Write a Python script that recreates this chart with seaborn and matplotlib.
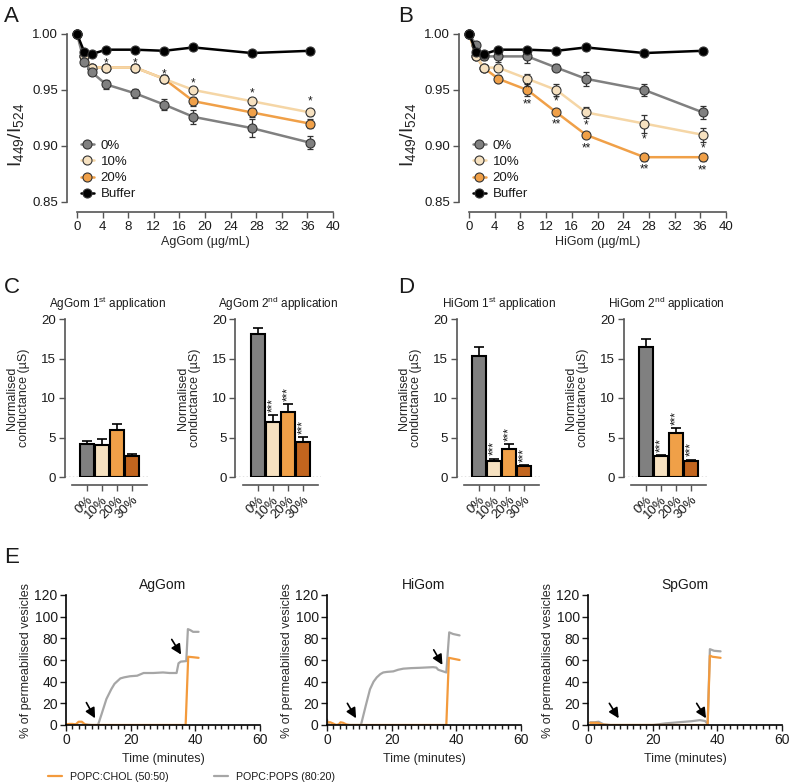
import matplotlib
matplotlib.use("Agg")
import matplotlib.pyplot as plt
import seaborn as sns
from matplotlib.lines import Line2D
from matplotlib.ticker import MultipleLocator

# ---------------- data ----------------
# A / B : I449/I524 ratio vs gomesin concentration
conc = [0, 1.14, 2.27, 4.55, 9.09, 13.6, 18.2, 27.3, 36.4]

ag_buffer = [1.000, 0.984, 0.982, 0.986, 0.986, 0.985, 0.988, 0.983, 0.985]
ag_0 = [1.000, 0.975, 0.966, 0.955, 0.947, 0.937, 0.926, 0.916, 0.903]
ag_10 = [1.000, 0.980, 0.970, 0.970, 0.970, 0.960, 0.950, 0.940, 0.930]
ag_20 = [1.000, 0.980, 0.970, 0.970, 0.970, 0.960, 0.940, 0.930, 0.920]
ag_buffer_err = [0, 0.002, 0.002, 0.001, 0.001, 0.002, 0.002, 0.002, 0.002]
ag_0_err = [0, 0.002, 0.002, 0.004, 0.004, 0.005, 0.006, 0.008, 0.006]
ag_10_err = [0, 0, 0, 0.001, 0.002, 0.003, 0.003, 0.003, 0.003]
ag_20_err = [0, 0, 0, 0, 0, 0.003, 0.004, 0.004, 0.004]
ag_10_stars = ['', '', '', '*', '*', '*', '*', '*', '*']
ag_10_star_y = [0, 0, 0, 0.9765, 0.9765, 0.967, 0.959, 0.950, 0.943]

hi_buffer = [1.000, 0.984, 0.982, 0.986, 0.986, 0.985, 0.988, 0.983, 0.985]
hi_0 = [1.000, 0.990, 0.980, 0.980, 0.980, 0.970, 0.960, 0.950, 0.930]
hi_10 = [1.000, 0.980, 0.970, 0.970, 0.960, 0.950, 0.930, 0.920, 0.910]
hi_20 = [1.000, 0.980, 0.970, 0.960, 0.950, 0.930, 0.910, 0.890, 0.890]
hi_buffer_err = [0, 0.002, 0.002, 0.001, 0.001, 0.002, 0.002, 0.002, 0.002]
hi_0_err = [0, 0.002, 0.003, 0.005, 0.006, 0.003, 0.006, 0.005, 0.006]
hi_10_err = [0, 0, 0, 0, 0.004, 0.005, 0.005, 0.008, 0.006]
hi_20_err = [0, 0, 0, 0.003, 0.005, 0.002, 0.002, 0.003, 0.003]
hi_10_stars = ['', '', '', '', '*', '*', '*', '*', '*']
hi_10_star_y = [0, 0, 0, 0, 0.954, 0.9424, 0.921, 0.909, 0.901]
hi_20_stars = ['', '', '', '', '**', '**', '**', '**', '**']
hi_20_star_y = [0, 0, 0, 0, 0.940, 0.922, 0.901, 0.882, 0.881]

# C / D : normalised conductance
groups = ['0%', '10%', '20%', '30%']
ag1 = [4.2, 4.1, 6.0, 2.6]
ag1_err = [0.3, 0.65, 0.65, 0.3]
ag2 = [18.1, 7.0, 8.2, 4.45]
ag2_err = [0.8, 0.8, 1.0, 0.65]
hi1 = [15.3, 2.08, 3.5, 1.35]
hi1_err = [1.2, 0.25, 0.65, 0.15]
hi2 = [16.4, 2.6, 5.6, 2.05]
hi2_err = [1.1, 0.2, 0.6, 0.15]
no_stars = ['', '', '', '']
sig_stars = ['', '***', '***', '***']

# E : % of permeabilised vesicles over time
ag_chol_t = [0, 1, 2, 3, 3.9, 4.9, 5.9, 7, 37.0, 37.8, 39.5, 41]
ag_chol_v = [0.5, 1, 1, 0.5, 3, 3, 0.5, 0, 0, 63, 62.5, 62]
ag_pops_t = [0, 2, 4, 6, 8, 9.9, 11, 12.5, 14, 15, 16.8, 18, 19.8, 22, 24, 27, 30, 32,
             34.2, 34.8, 35.5, 37.2, 37.7, 38.5, 39.3, 41]
ag_pops_v = [0, 0.5, 0, 0.5, 0, 0, 10, 24, 33, 38, 43, 44, 45, 45.5, 48, 48, 48.5, 48,
             48, 57, 58.5, 59, 88.5, 87.5, 86, 86]

hi_chol_t = [0, 1, 1.8, 2.8, 3.6, 4.2, 5, 6, 7, 36.9, 37.7, 38.5, 41]
hi_chol_v = [2.5, 2.5, 1.5, 0, 0.5, 2.5, 2, 0.5, 0, 0, 62, 61.5, 60]
hi_pops_t = [0, 0.3, 1, 3, 5, 8, 10.5, 12, 13.3, 14.4, 15.4, 16.5, 17.4, 18.5, 20.5, 22,
             23.6, 26, 28.7, 32.8, 33.8, 34.4, 35.4, 36.9, 37.8, 39, 41]
hi_pops_v = [5, 1, 0, 0, 0, 0, 0, 18, 33, 40, 44, 47, 48.5, 49, 49.5, 51,
             52, 52.5, 52.8, 53.4, 53, 51, 50, 48.5, 85.5, 84, 82.7]

sp_chol_t = [0.7, 2, 3, 4.3, 5.5, 6.4, 37.0, 37.7, 38.5, 41]
sp_chol_v = [2, 2, 2, 0.5, 0.2, 0, 0, 64, 63, 62]
sp_pops_t = [0.7, 2, 3.3, 4.8, 6.9, 20.2, 24, 28, 32, 34.6, 36.2, 37.0, 37.7, 39, 41]
sp_pops_v = [2.5, 2.5, 3, 0.6, 0, 0, 1.5, 2.5, 3.5, 4.5, 3.7, 1, 70, 68.5, 68]

# arrows marking the two additions (tail, head)
ag_arrows = [((6.3, 20.7), (9.0, 6.2)), ((32.7, 79), (35.6, 65))]
hi_arrows = [((6.3, 20), (9.0, 6.2)), ((33, 69.4), (35.7, 55.5))]
sp_arrows = [((6.6, 20), (9.5, 6.2)), ((33.6, 20), (36.5, 6.2))]

# ---------------- style ----------------
sns.set_style('ticks')
plt.rcParams['font.family'] = ['Liberation Sans', 'DejaVu Sans']
plt.rcParams['mathtext.fontset'] = 'custom'
plt.rcParams['mathtext.rm'] = 'Liberation Sans'
plt.rcParams['mathtext.default'] = 'regular'
plt.rcParams['text.color'] = '#1a1a1a'
plt.rcParams['xtick.color'] = '#1a1a1a'
plt.rcParams['ytick.color'] = '#1a1a1a'

SPINE = '#555555'
c_grey, c_light, c_orange, c_dark = '#808080', '#f6e1c0', '#f0a048', '#c2651e'
line_light = '#f5d6a6'
bar_colors = [c_grey, c_light, c_orange, c_dark]
e_orange, e_grey = '#f39a3c', '#a6a6a6'

W, H = 790, 783
fig = plt.figure(figsize=(W / 100, H / 100), dpi=100)


def rect(x0, y_top, x1, y_bottom):
    # pixel box -> figure fraction
    return [x0 / W, 1 - y_bottom / H, (x1 - x0) / W, (y_bottom - y_top) / H]


def titration(ax, series, stars, xlabel):
    for y, err, line_c, face_c, z in series:
        ax.errorbar(conc, y, yerr=err, fmt='none', ecolor='#333333', elinewidth=0.9,
                    capsize=2.5, capthick=0.9, zorder=z, clip_on=False)
        sns.lineplot(x=conc, y=y, ax=ax, color=line_c, lw=1.8, marker='o', markersize=6.5,
                     markerfacecolor=face_c, markeredgecolor='#333333', markeredgewidth=0.8,
                     zorder=z + 0.5, clip_on=False)
    for labels, ys in stars:
        for x, s, y in zip(conc, labels, ys):
            if s:
                ax.text(x, y - 0.003, s, ha='center', va='center', fontsize=8.5, zorder=10)
    ax.set_xlim(0, 40)
    ax.set_ylim(0.85, 1.00)
    ax.set_xticks(range(0, 41, 4))
    ax.set_yticks([0.85, 0.90, 0.95, 1.00])
    ax.set_yticklabels(['0.85', '0.90', '0.95', '1.00'])
    sns.despine(ax=ax)
    for side in ['left', 'bottom']:
        ax.spines[side].set_position(('outward', 7.5))
        ax.spines[side].set_color(SPINE)
        ax.spines[side].set_linewidth(1.2)
    ax.tick_params(labelsize=9.5, length=4, width=1, color=SPINE, pad=2)
    ax.set_xlabel(xlabel, fontsize=9, labelpad=2)
    ax.set_ylabel(r'I$_{449}$/I$_{524}$', fontsize=14)
    ax.yaxis.set_label_coords(-0.2, 0.4)
    handles = [Line2D([0], [0], color=lc, lw=1.8, marker='o', ms=6.5, mfc=fc, mec='#333333', mew=0.8)
               for lc, fc in [(c_grey, c_grey), (line_light, c_light), (c_orange, c_orange), ('black', 'black')]]
    ax.legend(handles, ['0%', '10%', '20%', 'Buffer'], loc='lower left', bbox_to_anchor=(0.015, 0.01),
              frameon=False, fontsize=9.5, handlelength=1.0, handletextpad=0.5, labelspacing=0.3,
              borderpad=0, borderaxespad=0)


def conductance(ax, vals, errs, stars, title):
    sns.barplot(x=groups, y=vals, hue=groups, palette=bar_colors, legend=False, ax=ax,
                edgecolor='black', linewidth=1.5, width=0.9, saturation=1, errorbar=None, zorder=2)
    ax.errorbar(range(4), vals, yerr=[[0] * 4, errs], fmt='none', ecolor='black',
                elinewidth=1.2, capsize=3.5, capthick=1.2, zorder=1)
    for i, (v, e, s) in enumerate(zip(vals, errs, stars)):
        if s:
            ax.text(i, v + e + 0.4, s, rotation=90, ha='center', va='bottom', fontsize=8.5)
    ax.axhline(0, color='#777777', lw=1, ls=':', zorder=0)
    ax.set_xlim(-1.5, 4.2)
    ax.set_ylim(0, 20)
    ax.set_yticks([0, 5, 10, 15, 20])
    sns.despine(ax=ax)
    ax.spines['left'].set_color(SPINE)
    ax.spines['left'].set_linewidth(1.2)
    ax.spines['bottom'].set_position(('outward', 6))
    ax.spines['bottom'].set_bounds(-1.0, 4.0)
    ax.spines['bottom'].set_color(SPINE)
    ax.spines['bottom'].set_linewidth(1.2)
    ax.tick_params(labelsize=9.5, length=4, width=1, color=SPINE, pad=2)
    ax.set_xticks(range(4))
    ax.set_xticklabels(groups, rotation=45, ha='right', rotation_mode='anchor')
    ax.set_xlabel('')
    ax.set_ylabel('Normalised\nconductance (µS)', fontsize=9, linespacing=1.05)
    ax.yaxis.set_label_coords(-0.4, 0.5)
    ax.set_title(title, fontsize=8.5, pad=8)


def leakage(ax, chol_t, chol_v, pops_t, pops_v, arrows, title):
    sns.lineplot(x=pops_t, y=pops_v, ax=ax, color=e_grey, lw=1.6)
    sns.lineplot(x=chol_t, y=chol_v, ax=ax, color=e_orange, lw=1.6)
    for tail, head in arrows:
        ax.annotate('', xy=head, xytext=tail,
                    arrowprops=dict(arrowstyle='-|>', color='black', lw=1.2, mutation_scale=15,
                                    shrinkA=0, shrinkB=0))
    ax.set_xlim(0, 60)
    ax.set_ylim(0, 120)
    ax.set_xticks([0, 20, 40, 60])
    ax.xaxis.set_minor_locator(MultipleLocator(2))
    ax.set_yticks(range(0, 121, 20))
    sns.despine(ax=ax)
    for side in ['left', 'bottom']:
        ax.spines[side].set_color('black')
        ax.spines[side].set_linewidth(1.2)
    ax.tick_params(which='major', labelsize=10, length=4, width=1, pad=2)
    ax.tick_params(which='minor', length=3, width=1)
    ax.set_xlabel('Time (minutes)', fontsize=9, labelpad=4)
    ax.set_ylabel('% of permeabilised vesicles', fontsize=9, labelpad=2)
    ax.set_title(title, fontsize=10, pad=4)


# ---------------- A / B ----------------
axA = fig.add_axes(rect(77, 34, 333, 202))
titration(axA,
          [(ag_20, ag_20_err, c_orange, c_orange, 2),
           (ag_10, ag_10_err, line_light, c_light, 3),
           (ag_0, ag_0_err, c_grey, c_grey, 4),
           (ag_buffer, ag_buffer_err, 'black', 'black', 5)],
          [(ag_10_stars, ag_10_star_y)], 'AgGom (µg/mL)')

axB = fig.add_axes(rect(469, 34, 726, 202))
titration(axB,
          [(hi_20, hi_20_err, c_orange, c_orange, 2),
           (hi_10, hi_10_err, line_light, c_light, 3),
           (hi_0, hi_0_err, c_grey, c_grey, 4),
           (hi_buffer, hi_buffer_err, 'black', 'black', 5)],
          [(hi_10_stars, hi_10_star_y), (hi_20_stars, hi_20_star_y)], 'HiGom (µg/mL)')

# ---------------- C / D ----------------
bar_panels = [(64.5, ag1, ag1_err, no_stars, 'AgGom 1$^{st}$ application'),
              (235.5, ag2, ag2_err, sig_stars, 'AgGom 2$^{nd}$ application'),
              (456.5, hi1, hi1_err, sig_stars, 'HiGom 1$^{st}$ application'),
              (623.5, hi2, hi2_err, sig_stars, 'HiGom 2$^{nd}$ application')]
for x0, vals, errs, stars, title in bar_panels:
    ax = fig.add_axes(rect(x0, 319, x0 + 85.5, 477))
    conductance(ax, vals, errs, stars, title)

# ---------------- E ----------------
leak_panels = [(66, ag_chol_t, ag_chol_v, ag_pops_t, ag_pops_v, ag_arrows, 'AgGom'),
               (327, hi_chol_t, hi_chol_v, hi_pops_t, hi_pops_v, hi_arrows, 'HiGom'),
               (588, sp_chol_t, sp_chol_v, sp_pops_t, sp_pops_v, sp_arrows, 'SpGom')]
for x0, ct, cv, pt, pv, arr, title in leak_panels:
    ax = fig.add_axes(rect(x0, 595, x0 + 194, 725))
    leakage(ax, ct, cv, pt, pv, arr, title)

e_handles = [Line2D([0], [0], color=e_orange, lw=1.6), Line2D([0], [0], color=e_grey, lw=1.6)]
fig.legend(e_handles, ['POPC:CHOL (50:50)', 'POPC:POPS (80:20)'], loc='center left',
           bbox_to_anchor=(48 / W, 1 - 777 / H), ncol=2, frameon=False, fontsize=7.7,
           handlelength=1.3, handletextpad=0.8, columnspacing=4.2, borderpad=0, borderaxespad=0)

# ---------------- panel letters ----------------
for letter, x, y in [('A', 4, 6), ('B', 398, 6), ('C', 4, 277), ('D', 398, 277), ('E', 4, 547)]:
    fig.text(x / W, 1 - y / H, letter, fontsize=16, va='top', ha='left')

fig.savefig('out.png', dpi=100)
